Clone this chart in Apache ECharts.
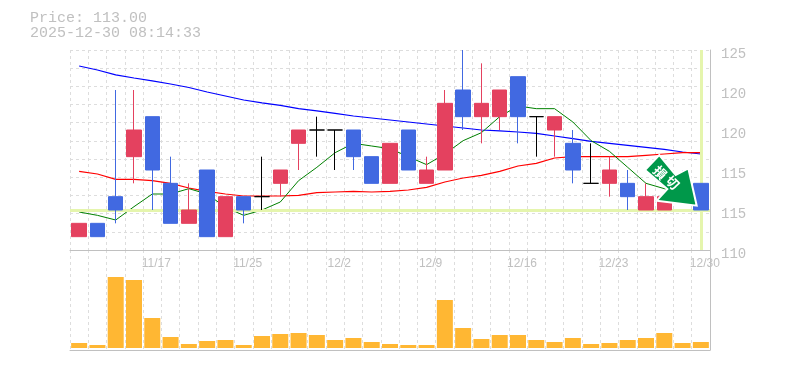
<!DOCTYPE html>
<html><head><meta charset="utf-8">
<style>html,body{margin:0;padding:0;background:#fff}#c{width:785px;height:370px}</style>
<script src="https://cdn.jsdelivr.net/npm/echarts@6/dist/echarts.min.js"></script>
</head><body><div id="c"></div>
<script>
const categories = ['11/11','11/12','11/13','11/14','11/17','11/18','11/19','11/20','11/21','11/25','11/26','11/27','11/28','12/1','12/2','12/3','12/4','12/5','12/8','12/9','12/10','12/11','12/12','12/15','12/16','12/17','12/18','12/19','12/22','12/23','12/24','12/25','12/26','12/29','12/30'];
const xTickLabels = ['11/17','11/25','12/2','12/9','12/16','12/23','12/30'];
const yTickValues = [110,113,116,119,122,125];
const yTickLabels = ['110','115','115','120','120','125'];
const opens  = [111,112,114,117,120,115,112,116,111,114,114,115,118,119,119,119,117,115,119,115,116,122,120,120,123,120,119,118,115,115,115,113,113,115,115];
const closes = [112,111,113,119,116,112,113,111,114,113,114,116,119,119,119,117,115,118,116,116,121,120,121,122,120,120,120,116,115,116,114,114,114,114,113];
const lows   = [111,111,112,115,113,112,112,111,111,112,113,114,116,117,116,116,115,115,116,115,116,119,118,119,118,117,117,115,115,114,113,113,113,114,113];
const highs  = [112,112,122,122,120,117,115,116,114,114,117,116,119,120,119,119,117,118,119,117,122,125,124,122,123,120,120,119,118,117,116,115,114,116,115];
const ma5  = [112.85,112.6,112.25,113.25,114.2,114.2,114.6,114.2,113.2,112.6,113,113.6,115.2,116.2,117.3,118,117.8,117.6,117,116.4,117.2,118.2,118.8,120,120.8,120.6,120.6,119.6,118.2,117.4,116.2,115,114.6,114.2,113.8];
const ma25 = [115.9,115.7,115.3,115.3,115.2,115,114.65,114.4,114.2,114.05,114.05,114.05,114.1,114.3,114.35,114.4,114.35,114.4,114.5,114.7,115.1,115.4,115.6,115.9,116.3,116.5,116.9,117,117,117,117,117.1,117.2,117.3,117.3];
const ma75 = [123.8,123.5,123.13,122.9,122.68,122.45,122.19,121.85,121.55,121.25,121.03,120.84,120.61,120.43,120.24,120.05,119.9,119.75,119.6,119.45,119.3,119.15,119,118.93,118.85,118.74,118.55,118.36,118.14,117.99,117.84,117.69,117.54,117.35,117.2];
const volumes = [5,3,71,68,30,11,4,7,8,3,12,14,15,13,8,10,6,4,3,3,48,20,9,13,13,8,6,10,4,5,8,10,15,5,6];
const lastPrice = 113;
const lastCategory = '12/30';
const titleText = 'Price: 113.00\n2025-12-30 08:14:33';
const arrowText = ['損','切'];

const GRAY = '#c0c0c0', GRID = '#dddddd', RED = '#e4415f', BLUE = '#4169e1';
const dashed = {show:true, lineStyle:{color:GRID, width:1, type:[3,3]}};
const arrowPoints = [[645,170],[659.3,155],[675.7,175],[688.3,168.3],[696.7,205.7],[656.7,200.7],[667.3,189]];
const lineSeries = (data,color,width,extra) => Object.assign({
  type:'line', data, symbol:'none', silent:true, z:2, animation:false,
  lineStyle:{color, width}, itemStyle:{color}
}, extra||{});

const chart = echarts.init(document.getElementById('c'), null, {renderer:'canvas'});
chart.setOption({
  animation:false,
  backgroundColor:'#ffffff',
  title:{
    text:titleText, left:30, top:11, padding:0,
    textStyle:{fontFamily:'Liberation Mono', fontSize:15, fontWeight:'normal', color:GRAY, lineHeight:15}
  },
  grid:[
    {left:70, width:640, top:50, height:200, containLabel:false},
    {left:70, width:640, top:250, height:100, containLabel:false}
  ],
  xAxis:[
    {type:'category', gridIndex:0, data:categories, boundaryGap:true,
     axisLine:{onZero:false, lineStyle:{color:GRAY, width:1}}, axisTick:{show:false},
     splitLine:Object.assign({interval:0},dashed),
     axisLabel:{interval:(i,v)=>xTickLabels.includes(v), color:GRAY, fontFamily:'Liberation Sans', fontSize:12, margin:8, padding:[0,0,0,8], hideOverlap:false}},
    {type:'category', gridIndex:1, data:categories, boundaryGap:true,
     axisLine:{onZero:false, lineStyle:{color:GRAY, width:1}}, axisTick:{show:false},
     splitLine:Object.assign({interval:0},dashed), axisLabel:{show:false}}
  ],
  yAxis:[
    {type:'value', gridIndex:0, position:'right', min:110, max:125, scale:true,
     axisLine:{show:true, lineStyle:{color:GRAY, width:1}}, axisTick:{show:false, customValues:yTickValues}, splitLine:{show:false},
     axisLabel:{customValues:yTickValues, formatter:v=>yTickLabels[yTickValues.indexOf(v)], color:GRAY, fontFamily:'Liberation Mono', fontSize:14, margin:11, verticalAlign:'top', lineHeight:8}},
    {type:'value', gridIndex:0, position:'left', min:0, max:11, interval:1,
     axisLine:{show:false}, axisTick:{show:false}, axisLabel:{show:false}, splitLine:dashed},
    {type:'value', gridIndex:1, position:'right', min:-2, max:98,
     axisLine:{show:true, lineStyle:{color:GRAY, width:1}}, axisTick:{show:false}, axisLabel:{show:false}, splitLine:{show:false}}
  ],
  series:[
    lineSeries(ma75,'#0000ff',1.2,{xAxisIndex:0,yAxisIndex:0,
      markLine:{silent:true, symbol:'none', animation:false, label:{show:false},
        lineStyle:{color:'#e5f5ad', width:3, type:'solid'},
        data:[{yAxis:lastPrice},{xAxis:lastCategory}]}, z:1}),
    lineSeries(ma25,'#ff0000',1.2,{xAxisIndex:0,yAxisIndex:0}),
    lineSeries(ma5,'#008000',1,{xAxisIndex:0,yAxisIndex:0}),
    {type:'candlestick', xAxisIndex:0, yAxisIndex:0, z:5, silent:true, animation:false, barWidth:15,
     data:categories.map((c,i)=>[opens[i],closes[i],lows[i],highs[i]]),
     itemStyle:{color:RED,color0:BLUE,borderColor:RED,borderColor0:BLUE,borderColorDoji:'#000000',borderWidth:1}},
    {type:'bar', xAxisIndex:1, yAxisIndex:2, data:volumes, barWidth:16, silent:true, animation:false,
     itemStyle:{color:'#ffb733'}}
  ],
  graphic:[
    {type:'polygon', z:50, silent:true, shape:{points:arrowPoints},
     style:{fill:'#00984a', stroke:'#ffffff', lineWidth:2, lineJoin:'miter'}},
    {type:'text', z:51, silent:true, x:660, y:172.5, rotation:-Math.PI/4,
     style:{text:arrowText[0], fill:'#fff', font:'bold 13px "Noto Sans CJK JP"', textAlign:'center', textVerticalAlign:'middle'}},
    {type:'text', z:51, silent:true, x:672.5, y:182.5, rotation:-Math.PI/4,
     style:{text:arrowText[1], fill:'#fff', font:'bold 13px "Noto Sans CJK JP"', textAlign:'center', textVerticalAlign:'middle'}}
  ]
});
</script></body></html>
